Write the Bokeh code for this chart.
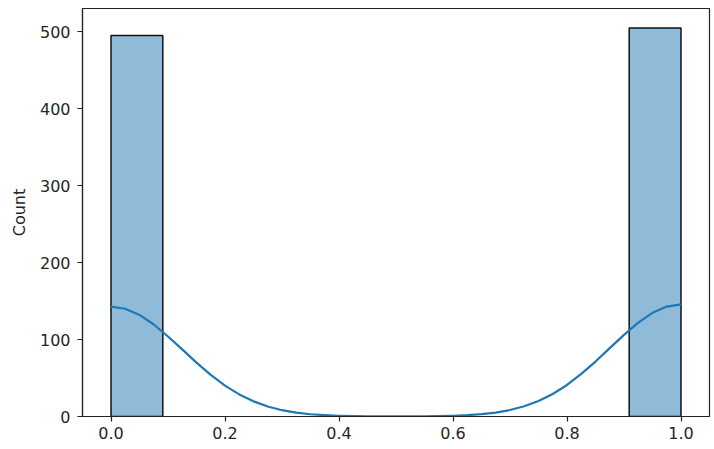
from bokeh.plotting import figure
from bokeh.embed import file_html
from bokeh.resources import INLINE
from bokeh.models import Range1d, FixedTicker, NumeralTickFormatter

# Histogram bins (11 auto bins over [0, 1]); only the two non-empty bins
bin_left = [0.0, 0.9091]
bin_right = [0.0909, 1.0]
counts = [495, 505]

# KDE curve (scaled to counts)
kde_x = [0.0, 0.025, 0.05, 0.075, 0.1, 0.125, 0.15, 0.175, 0.2, 0.225, 0.25,
         0.275, 0.3, 0.325, 0.35, 0.375, 0.4, 0.425, 0.45, 0.475, 0.5,
         0.525, 0.55, 0.575, 0.6, 0.625, 0.65, 0.675, 0.7, 0.725, 0.75,
         0.775, 0.8, 0.825, 0.85, 0.875, 0.9, 0.925, 0.95, 0.975, 1.0]
kde_y = [142.9, 140.0, 132.0, 119.6, 104.0, 87.2, 70.0, 54.2, 40.2, 28.7, 19.7,
         13.0, 8.2, 5.0, 2.9, 1.7, 0.9, 0.5, 0.2, 0.1, 0.1,
         0.1, 0.2, 0.5, 0.9, 1.7, 3.0, 5.1, 8.4, 13.3, 20.1,
         29.3, 41.0, 55.3, 71.4, 88.9, 106.1, 122.0, 134.7, 142.9, 145.8]

x_ticks = [0.0, 0.2, 0.4, 0.6, 0.8, 1.0]
y_ticks = [0, 100, 200, 300, 400, 500]

FONT = "DejaVu Sans"
TEXT = "#262626"

p = figure(width=712, height=448, output_backend="svg", toolbar_location=None,
           x_range=Range1d(-0.05, 1.05), y_range=Range1d(0, 530.25),
           min_border_left=82, min_border_right=3, min_border_top=8,
           min_border_bottom=32)

p.quad(left=bin_left, right=bin_right, bottom=0, top=counts,
       fill_color="#1f77b4", fill_alpha=0.5, line_color="#111111", line_width=1.5)
p.line(kde_x, kde_y, line_color="#1f77b4", line_width=2.2, line_join="round")

p.xgrid.visible = False
p.ygrid.visible = False
p.outline_line_color = "#222222"
p.outline_line_width = 1.2

for ax in (p.xaxis[0], p.yaxis[0]):
    ax.axis_line_color = "#222222"
    ax.axis_line_width = 1.2
    ax.major_tick_line_color = "#222222"
    ax.major_tick_line_width = 1.2
    ax.major_tick_out = 5
    ax.major_tick_in = 0
    ax.minor_tick_line_color = None
    ax.major_label_text_font = FONT
    ax.major_label_text_font_size = "16px"
    ax.major_label_text_color = TEXT

p.xaxis[0].ticker = FixedTicker(ticks=x_ticks)
p.xaxis[0].formatter = NumeralTickFormatter(format="0.0")
p.xaxis[0].major_label_standoff = 5
p.yaxis[0].ticker = FixedTicker(ticks=y_ticks)
p.yaxis[0].major_label_standoff = 7
p.yaxis[0].axis_label = "Count"
p.yaxis[0].axis_label_text_font = FONT
p.yaxis[0].axis_label_text_font_size = "16px"
p.yaxis[0].axis_label_text_font_style = "normal"
p.yaxis[0].axis_label_text_color = TEXT
p.yaxis[0].axis_label_standoff = 8

open("out.html", "w").write(file_html(p, INLINE))
